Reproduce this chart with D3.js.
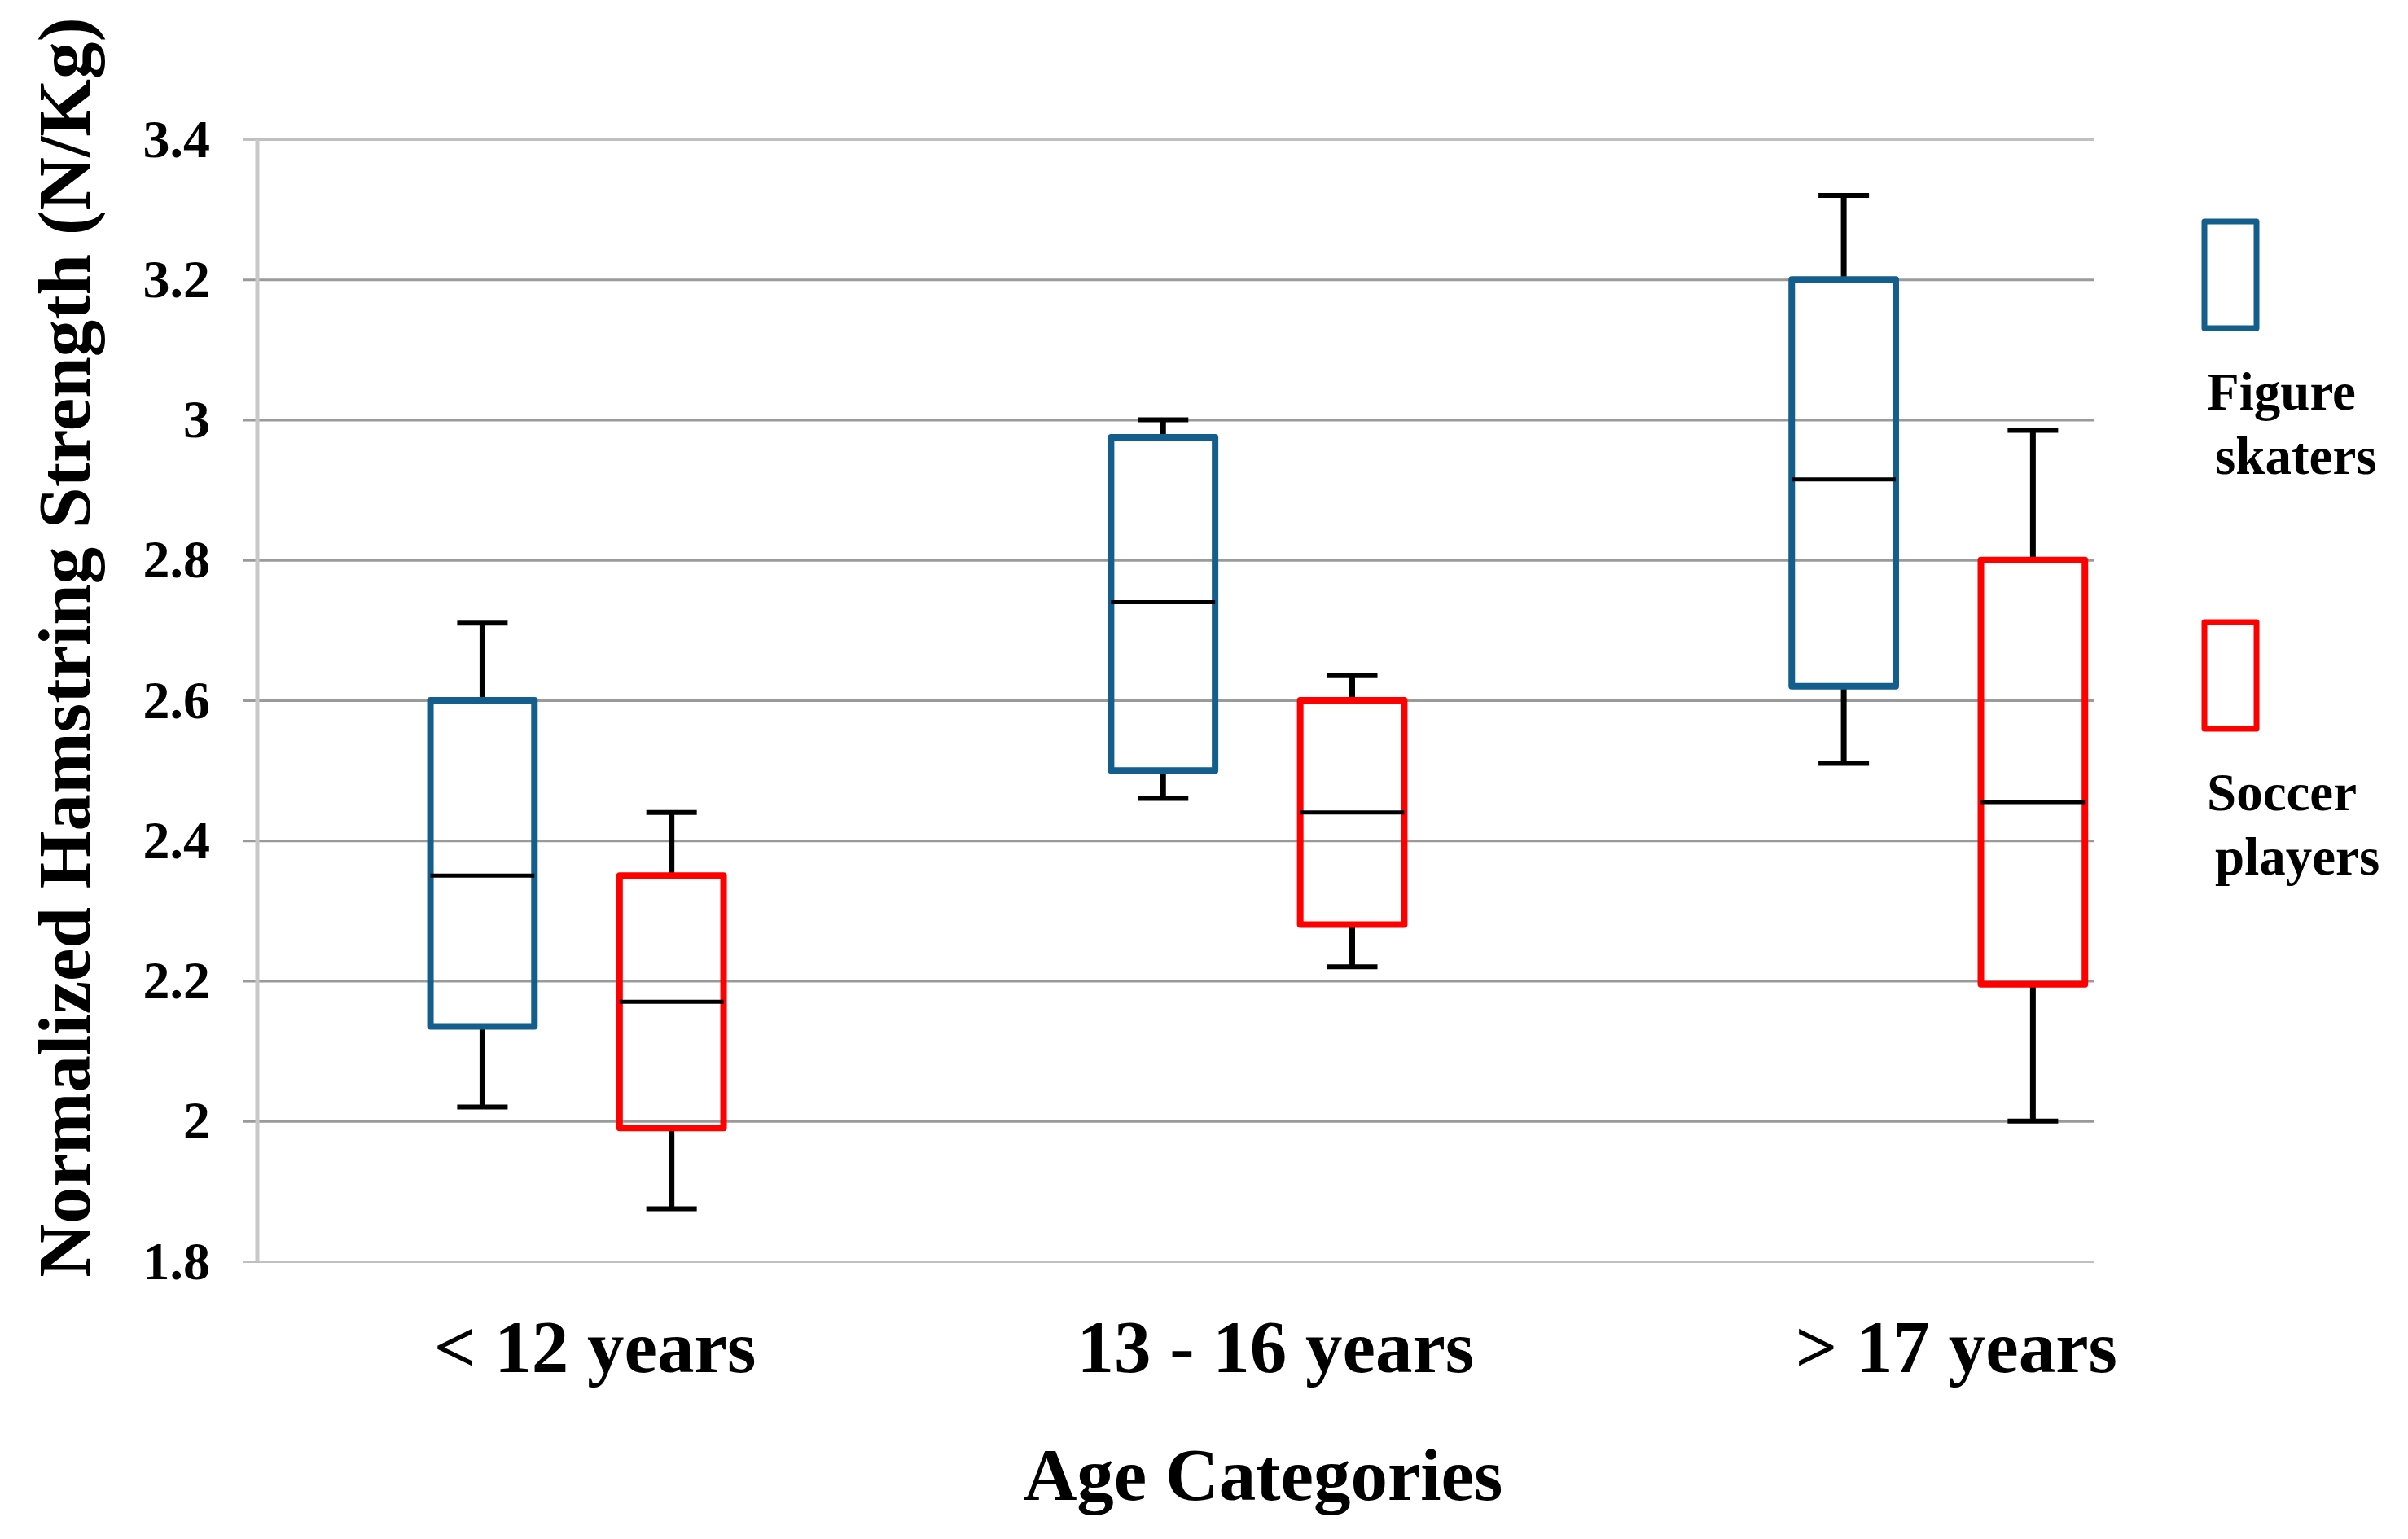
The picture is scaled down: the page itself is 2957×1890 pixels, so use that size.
<!DOCTYPE html>
<html>
<head>
<meta charset="utf-8">
<title>Hamstring strength box plot</title>
<script src="https://cdn.jsdelivr.net/npm/d3@7"></script>
<style>
  body { margin: 0; background: #fff; }
  text { font-family: "Liberation Serif", "Times New Roman", serif; font-weight: bold; fill: #000; }
</style>
</head>
<body>
<div id="chart"></div>
<script>
var categories = ["< 12 years", "13 - 16 years", "> 17 years"]
var series = ["Figure skaters", "Soccer players"]
var legendLines = [["Figure", "skaters"], ["Soccer", "players"]]

// figure skaters
var skaterMin = [2.02, 2.46, 2.51]
var skaterQ1 = [2.135, 2.50, 2.62]
var skaterMedian = [2.35, 2.74, 2.915]
var skaterQ3 = [2.60, 2.975, 3.20]
var skaterMax = [2.71, 3.00, 3.32]

// soccer players
var soccerMin = [1.875, 2.22, 2.0]
var soccerQ1 = [1.99, 2.28, 2.195]
var soccerMedian = [2.17, 2.44, 2.455]
var soccerQ3 = [2.35, 2.60, 2.80]
var soccerMax = [2.44, 2.635, 2.985]

var yTicks = [1.8, 2, 2.2, 2.4, 2.6, 2.8, 3, 3.2, 3.4]

var colors = ["#135E8C", "#FF0000"]

var width = 2957, height = 1890
var plot = {left: 316, right: 2572, top: 171, bottom: 1549}
var plotW = plot.right - plot.left

var boxes = []
categories.forEach((c, i) => {
  boxes.push({cat: c, ser: series[0], min: skaterMin[i], q1: skaterQ1[i], med: skaterMedian[i], q3: skaterQ3[i], max: skaterMax[i]})
  boxes.push({cat: c, ser: series[1], min: soccerMin[i], q1: soccerQ1[i], med: soccerMedian[i], q3: soccerQ3[i], max: soccerMax[i]})
})

var svg = d3.select("#chart").append("svg").attr("width", width).attr("height", height)

var y = d3.scaleLinear().domain([1.8, 3.4]).range([plot.bottom, plot.top])
var x = d3.scalePoint().domain(categories).range([plot.left + 0.174 * plotW, plot.left + 0.915 * plotW])
var sub = d3.scaleBand().domain(series).range([-180, 180]).paddingInner(0.45)
var color = d3.scaleOrdinal().domain(series).range(colors)

// gridlines + tick labels
var yAxis = svg.append("g").attr("transform", "translate(298,0)")
  .call(d3.axisLeft(y).tickValues(yTicks).tickFormat(d3.format("")).tickSize(-(plot.right - 298)).tickPadding(40))
yAxis.select(".domain").remove()
yAxis.selectAll(".tick line").attr("stroke", (d) => (d == 1.8 || d == 3.4) ? "#c0c0c0" : "#9a9a9a").attr("stroke-width", 3)
yAxis.selectAll(".tick text").attr("font-size", 66).style("font-family", "'Liberation Serif', serif").style("font-weight", "bold")

svg.append("line").attr("x1", plot.left).attr("x2", plot.left).attr("y1", plot.top).attr("y2", plot.bottom)
  .attr("stroke", "#c8c8c8").attr("stroke-width", 5)

var capW = 62
var g = svg.selectAll("g.box").data(boxes).enter().append("g").attr("class", "box")
  .attr("transform", (d) => "translate(" + (x(d.cat) + sub(d.ser) + sub.bandwidth() / 2) + ",0)")

g.append("line").attr("x1", 0).attr("x2", 0).attr("y1", (d) => y(d.max)).attr("y2", (d) => y(d.q3))
  .attr("stroke", "#000").attr("stroke-width", 7)
g.append("line").attr("x1", 0).attr("x2", 0).attr("y1", (d) => y(d.q1)).attr("y2", (d) => y(d.min))
  .attr("stroke", "#000").attr("stroke-width", 7)
g.append("line").attr("x1", -capW / 2).attr("x2", capW / 2).attr("y1", (d) => y(d.max)).attr("y2", (d) => y(d.max))
  .attr("stroke", "#000").attr("stroke-width", 6)
g.append("line").attr("x1", -capW / 2).attr("x2", capW / 2).attr("y1", (d) => y(d.min)).attr("y2", (d) => y(d.min))
  .attr("stroke", "#000").attr("stroke-width", 6)
g.append("rect").attr("x", -sub.bandwidth() / 2).attr("width", sub.bandwidth())
  .attr("y", (d) => y(d.q3)).attr("height", (d) => y(d.q1) - y(d.q3))
  .attr("fill", "none").attr("stroke", (d) => color(d.ser)).attr("stroke-width", 8).attr("stroke-linejoin", "round")
g.append("line").attr("x1", -sub.bandwidth() / 2).attr("x2", sub.bandwidth() / 2)
  .attr("y1", (d) => y(d.med)).attr("y2", (d) => y(d.med))
  .attr("stroke", "#000").attr("stroke-width", 5)

// category labels
svg.selectAll("text.cat").data(categories).enter().append("text").attr("class", "cat")
  .attr("x", (d) => x(d) + 22).attr("y", 1685).attr("text-anchor", "middle").attr("font-size", 91).text((d) => d)

svg.append("text").attr("x", 1551).attr("y", 1842).attr("text-anchor", "middle").attr("font-size", 91).text("Age Categories")

svg.append("text").attr("transform", "translate(110,795) rotate(-90)").attr("text-anchor", "middle")
  .attr("font-size", 91).text("Normalized Hamstring Strength (N/Kg)")

// legend
var ly = d3.scalePoint().domain(series).range([269, 761])
var lg = svg.selectAll("g.leg").data(series).enter().append("g").attr("class", "leg")
  .attr("transform", (d) => "translate(2704," + ly(d) + ")")
lg.append("rect").attr("x", 3).attr("y", 3).attr("width", 64).attr("height", 131)
  .attr("fill", "none").attr("stroke", (d) => color(d)).attr("stroke-width", 7).attr("stroke-linejoin", "round")
lg.each(function(d, i) {
  var t = d3.select(this)
  legendLines[i].forEach((s, j) => {
    t.append("text").attr("x", 6 + j * 10).attr("y", 234 + j * 79).attr("font-size", 65).text(s)
  })
})
</script>
</body>
</html>
